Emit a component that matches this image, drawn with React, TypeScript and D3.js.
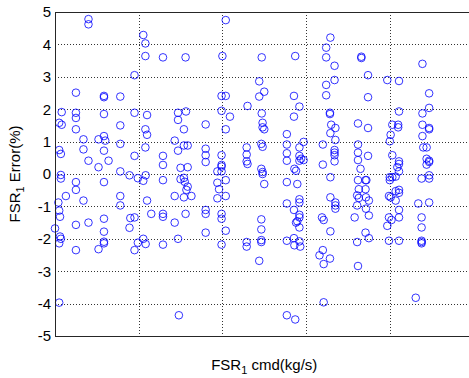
import React from "react";
import * as d3 from "d3";

const yTicks = [5, 4, 3, 2, 1, 0, -1, -2, -3, -4, -5];
const xGrid = [1, 2, 3, 4];

// FSR1 cmd (arbitrary units, grid at 1..4) and FSR1 Error (%)
const cmdValues = [
  0.40, 0.40, 1.055, 1.08, 1.08, 0.95, 2.04, 1.29, 1.56, 2.00, 2.47, 2.87, 2.44, 2.44, 2.47,
  3.29, 3.24, 3.24, 3.34, 3.66, 3.66, 3.74, 3.24, 3.34, 3.97, 4.11, 4.39,
  0.25, 0.585, 0.585, 0.78, 1.99, 2.04, 0.08, 0.25, 0.25, 0.585, 0.95, 1.10, 1.47, 1.565, 1.47,
  1.99, 2.09, 2.30, 0.05, 0.08, 0.25, 0.78, 1.08, 1.10, 1.54, 1.80, 2.04, 0.34, 0.52, 0.585,
  0.60, 1.43, 1.54, 1.585, 1.47, 0.05, 0.07, 0.34, 0.585, 0.78, 1.08, 1.80, 1.80, 1.80, 1.99,
  2.29, 2.29, 2.29, 2.30, 0.40, 0.64, 0.52, 0.95, 1.29, 1.29, 1.99, 1.99, 1.50, 1.585, 0.07,
  0.07, 0.25, 0.25, 0.585, 0.78, 0.89, 0.99, 1.055, 1.083, 1.29, 1.50, 1.54, 1.55, 1.585, 1.57,
  1.54, 1.43, 1.63, 1.99, 1.94, 1.94, 1.96, 1.94, 2.04, 2.04, 0.13, 0.34, 0.04, 0.78, 0.78,
  1.10, 0.05, 0.06, 0.25, 0.40, 0.585, 0.90, 0.95, 1.15, 1.29, 1.29, 1.43, 1.56, 1.80, 1.80,
  1.99, 1.99, 0.00, 0.585, 0.89, 0.06, 0.07, 0.05, 0.585, 0.585, 0.99, 1.055, 1.083, 1.29, 1.47,
  1.80, 2.04, 1.99, 0.25, 0.52, 0.95, 2.29, 2.29,
  2.50, 2.855, 3.24, 3.74, 4.47, 2.92, 2.855, 3.285, 3.285, 4.11, 4.39, 4.47, 2.48, 2.48, 2.50,
  2.77, 3.30, 3.35, 3.29, 3.62, 3.74, 4.03, 4.10, 4.10, 4.47, 4.47, 4.39, 4.01, 4.39, 2.465,
  2.48, 2.77, 2.92, 2.97, 3.35, 3.20, 3.62, 4.00, 4.40, 4.44, 2.77, 2.77, 2.92, 2.92, 2.97,
  2.94, 3.34, 3.34, 3.34, 3.34, 3.62, 3.62, 3.74, 3.20, 4.03, 4.11, 4.11, 4.09, 4.11, 4.44,
  4.47, 4.47, 4.44, 2.465, 2.48, 2.48, 2.50, 2.86, 2.88, 3.65, 3.29, 2.77, 2.895, 3.62, 3.71,
  3.72, 4.00, 4.03, 4.00, 4.07, 4.38, 4.47, 4.47, 3.63, 3.71, 3.61, 3.63, 3.715, 3.75, 3.715,
  3.61, 4.11, 4.11, 4.07, 3.99, 4.01, 4.07, 3.29, 3.35, 3.35, 3.35, 2.92, 2.92, 2.77, 4.34,
  4.47, 2.465, 2.465, 2.855, 2.92, 2.92, 2.895, 2.88, 2.92, 3.19, 3.21, 3.58, 3.75, 3.99, 4.02,
  3.97, 4.11, 4.11, 4.38, 4.38, 2.465, 2.465, 2.77, 2.855, 2.86, 2.92, 2.93, 3.29, 3.71, 3.75,
  3.61, 3.99, 4.11, 4.38, 4.38, 4.38, 3.20, 3.16, 3.285,
  0.05, 1.48, 2.77, 2.87, 2.44, 3.21, 4.31, 3.62, 3.21,
];

const errorValues = [
  4.78, 4.62, 4.29, 4.03, 3.64, 3.05, 4.75, 3.60, 3.60, 3.64, 3.60, 3.64, 2.86, 2.39, 1.87,
  4.21, 3.90, 3.60, 3.34, 3.62, 3.58, 3.05, 2.75, 2.90, 2.90, 2.87, 3.40,
  2.51, 2.41, 2.37, 2.39, 2.41, 2.41, 1.91, 1.89, 1.73, 1.85, 1.89, 1.82, 1.89, 1.93, 1.67,
  1.95, 1.77, 2.10, 1.58, 1.52, 1.38, 1.50, 1.38, 1.21, 1.38, 1.53, 1.38, 1.07, 1.07, 1.17,
  1.03, 1.03, 0.88, 0.88, 0.72, 0.74, 0.62, 0.76, 0.72, 0.93, 0.82, 0.78, 0.58, 0.37, 0.58,
  0.82, 0.60, 0.39, 0.31, 0.41, 0.41, 0.21, 0.56, 0.56, 0.28, 0.28, 0.23, 0.19, 0.21, -0.03,
  -0.14, -0.25, -0.49, -0.25, 0.08, -0.04, -0.13, -0.21, -0.04, -0.19, -0.16, -0.12, -0.24, -0.39, -0.49,
  -0.72, -0.68, -0.68, 0.08, 0.08, -0.27, -0.47, -0.75, -0.19, -0.68, -0.68, -0.82, -0.88, -0.68, -0.97,
  -0.82, -1.13, -1.32, -1.57, -1.50, -1.38, -1.36, -1.34, -1.23, -1.23, -1.32, -1.50, -1.23, -1.11, -1.23,
  -1.23, -1.38, -1.68, -1.78, -1.66, -1.93, -2.00, -2.14, -2.09, -2.14, -2.12, -2.00, -2.16, -2.18, -2.00,
  -1.81, -1.75, -2.18, -2.35, -2.32, -2.35, -2.10, -2.24,
  2.54, 2.41, 2.43, 2.37, 2.49, 2.08, 1.77, 1.89, 1.85, 1.93, 1.87, 2.04, 1.58, 1.44, 1.38,
  1.23, 1.52, 1.42, 1.26, 1.56, 1.42, 1.52, 1.52, 1.44, 1.42, 1.38, 1.52, 1.21, 1.17, 0.93,
  0.84, 0.91, 0.82, 0.99, 1.05, 0.91, 0.91, 1.01, 0.82, 0.82, 0.64, 0.41, 0.56, 0.41, 0.43,
  0.47, 0.74, 0.66, 0.58, 0.39, 0.66, 0.43, 0.56, 0.29, 0.58, 0.39, 0.31, 0.21, 0.08, 0.47,
  0.41, 0.37, 0.29, 0.16, 0.06, 0.00, -0.31, 0.16, 0.10, 0.16, -0.10, -0.25, -0.31, -0.19, -0.19,
  -0.19, -0.10, -0.10, -0.19, -0.08, -0.14, -0.14, -0.04, -0.47, -0.47, -0.66, -0.74, -0.72, -0.82, -1.07,
  -0.97, -0.49, -0.58, -0.53, -0.68, -0.72, -0.82, -0.72, -0.88, -0.97, -1.07, -0.78, -0.88, -0.91, -0.91,
  -0.88, -1.40, -1.71, -1.11, -1.26, -1.34, -1.46, -1.50, -1.65, -1.34, -1.42, -1.34, -1.28, -1.34, -1.42,
  -1.60, -1.11, -1.34, -1.34, -1.65, -2.04, -2.10, -2.06, -1.98, -2.20, -2.08, -2.24, -1.77, -1.81, -1.98,
  -2.10, -2.06, -2.06, -2.06, -2.10, -2.14, -2.35, -2.51, -2.61,
  -3.97, -4.36, -4.36, -4.49, -2.68, -3.96, -3.82, -2.84, -2.78,
];

const W = 469;
const H = 378;
const left = 55;
const right = 473.5;
const top = 12;
const bottom = 336;
const FONT = "'Liberation Sans', Arial, Helvetica, sans-serif";

export default function App() {
  const x = d3.scaleLinear().domain([0, 5]).range([left, right]);
  const y = d3.scaleLinear().domain([-5, 5]).range([bottom, top]);
  const pts = cmdValues.map((c, i) => [c, errorValues[i]] as [number, number]);

  return (
    <svg
      width={W}
      height={H}
      style={{ position: "absolute", left: 0, top: 0, background: "#fff" }}
    >
      <rect x={0} y={0} width={W} height={H} fill="#fff" />
      {/* grid */}
      {yTicks
        .filter((t) => t !== 5 && t !== -5)
        .map((t) => (
          <line
            key={"gy" + t}
            x1={left}
            x2={right}
            y1={Math.round(y(t)) + 0.5}
            y2={Math.round(y(t)) + 0.5}
            stroke="#333"
            strokeWidth={1}
            strokeDasharray="1,2"
          />
        ))}
      {xGrid.map((t) => (
        <line
          key={"gx" + t}
          x1={Math.round(x(t)) + 0.5}
          x2={Math.round(x(t)) + 0.5}
          y1={top}
          y2={bottom}
          stroke="#333"
          strokeWidth={1}
          strokeDasharray="1,2"
        />
      ))}
      {/* points */}
      {pts.map(([c, e], i) => (
        <circle
          key={i}
          cx={x(c)}
          cy={y(e)}
          r={3.8}
          fill="none"
          stroke="#0000ff"
          strokeWidth={0.8}
        />
      ))}
      {/* frame */}
      <line x1={left} x2={right} y1={top + 0.5} y2={top + 0.5} stroke="#262626" strokeWidth={1} />
      <line x1={left} x2={right} y1={bottom + 0.5} y2={bottom + 0.5} stroke="#262626" strokeWidth={1} />
      <line x1={left + 0.5} x2={left + 0.5} y1={top} y2={bottom + 1} stroke="#262626" strokeWidth={1} />
      {/* y tick labels */}
      {yTicks.map((t) => (
        <text
          key={"ty" + t}
          x={51}
          y={y(t)}
          dy="0.36em"
          textAnchor="end"
          fontFamily={FONT}
          fontSize={15}
          fill="#000"
        >
          {t}
        </text>
      ))}
      {/* axis labels */}
      <text
        x={(left + right) / 2}
        y={370}
        textAnchor="middle"
        fontFamily={FONT}
        fontSize={15}
        fill="#000"
      >
        FSR
        <tspan fontSize={11} dy={4}>1</tspan>
        <tspan dy={-4}> cmd(kg/s)</tspan>
      </text>
      <text
        transform={`translate(20, ${(top + bottom) / 2}) rotate(-90)`}
        textAnchor="middle"
        fontFamily={FONT}
        fontSize={15}
        fill="#000"
      >
        FSR
        <tspan fontSize={11} dy={4}>1</tspan>
        <tspan dy={-4}> Error(%)</tspan>
      </text>
    </svg>
  );
}
